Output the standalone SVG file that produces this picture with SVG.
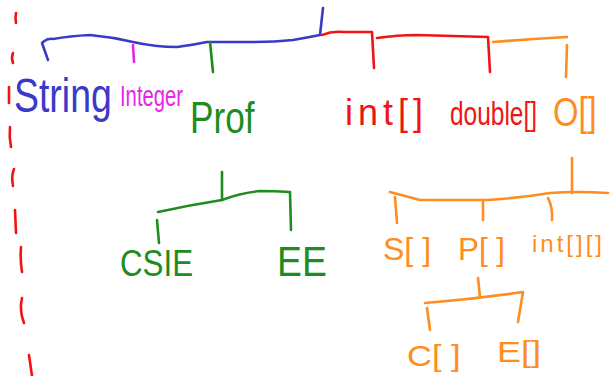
<svg xmlns="http://www.w3.org/2000/svg" width="610" height="376" viewBox="0 0 610 376">
<style>
.l{fill:none;stroke-width:2.6;stroke-linecap:round;stroke-linejoin:round}
.t{font-family:"Liberation Sans",Arial,sans-serif}
.b{stroke:#3a3ac8}.bf{fill:#3a3ac8}
.m{stroke:#e626e6}.mf{fill:#e626e6}
.g{stroke:#1e8c1e}.gf{fill:#1e8c1e}
.r{stroke:#f01414}.rf{fill:#f01414}
.o{stroke:#ff8c1e}.of{fill:#ff8c1e}
</style>
<rect width="610" height="376" fill="#ffffff"/>
<g id="divider" class="l r">
<path d="M16 13 Q15 18 16 23"/>
<path d="M13 53 Q11 58 13 63"/>
<path d="M9 87 L9 103"/>
<path d="M10 127 Q9 137 11 147"/>
<path d="M14 169 Q11 176 13 186"/>
<path d="M15 210 L16 233"/>
<path d="M21 247 Q20 260 22 272"/>
<path d="M22 298 Q19 310 24 323"/>
<path d="M29 355 L32 376"/>
</g>
<g id="connectors">
<path class="l b" d="M43 42 Q48 38 53 39 Q70 36 90 35 Q112 37 133 42 Q155 47 177 47 Q193 45 207 42 Q230 42 253 42 Q275 42 293 40 Q305 38 320 35 L323 8"/>
<path class="l b" d="M42 43 L48 60"/>
<path class="l m" d="M133 45 L134 62"/>
<path class="l g" d="M210 42 L213 72"/>
<path class="l r" d="M322 35 Q332 31 343 32 Q358 32 372 32 L374 68"/>
<path class="l r" d="M377 38 Q398 35 417 35 Q452 36 488 37 L490 72"/>
<path class="l o" d="M493 42 Q530 39 567 37"/>
<path class="l o" d="M567 45 L566 77"/>
<path class="l g" d="M222 172 L222 200"/>
<path class="l g" d="M158 212 Q190 205 222 200 Q240 193 260 191 Q275 191 290 192 L291 230"/>
<path class="l g" d="M157 220 L159 243"/>
<path class="l o" d="M572 158 L572 193"/>
<path class="l o" d="M390 192 Q405 196 420 200 Q453 200 487 200 Q520 198 550 193 Q575 191 608 193"/>
<path class="l o" d="M395 197 L397 223"/>
<path class="l o" d="M483 202 L483 220"/>
<path class="l o" d="M548 198 Q553 208 552 220"/>
<path class="l o" d="M478 278 L480 297"/>
<path class="l o" d="M425 303 Q475 299 523 292 L518 322"/>
<path class="l o" d="M427 308 L430 330"/>
</g>
<g id="node-String"><text class="t bf" transform="translate(14 112) scale(0.78 1)" font-size="48">String</text></g>
<g id="node-Integer"><text class="t mf" transform="translate(120 106) scale(0.675 1)" font-size="30">Integer</text></g>
<g id="node-Prof"><text class="t gf" transform="translate(190 133) scale(0.8 1)" font-size="44">Prof</text></g>
<g id="node-int-arr"><text class="t rf" transform="translate(345 125)" font-size="36" letter-spacing="5">int[]</text></g>
<g id="node-double-arr"><text class="t rf" transform="translate(450 125) scale(0.72 1)" font-size="34">double[]</text></g>
<g id="node-O-arr"><text class="t of" transform="translate(553 126) scale(0.82 1)" font-size="40">O[]</text></g>
<g id="node-CSIE"><text class="t gf" transform="translate(120 276) scale(0.87 1)" font-size="36">CSIE</text></g>
<g id="node-EE"><text class="t gf" transform="translate(277 276) scale(0.89 1)" font-size="42">EE</text></g>
<g id="node-S-arr"><text class="t of" transform="translate(383 260)" font-size="32">S[ ]</text></g>
<g id="node-P-arr"><text class="t of" transform="translate(458 260) scale(0.98 1)" font-size="32">P[ ]</text></g>
<g id="node-int2d-arr"><text class="t of" transform="translate(532 252)" font-size="24" letter-spacing="3">int[][]</text></g>
<g id="node-C-arr"><text class="t of" transform="translate(407 366) scale(1.15 1)" font-size="30">C[ ]</text></g>
<g id="node-E-arr"><text class="t of" transform="translate(497 362) scale(1.2 1)" font-size="30">E[]</text></g>
</svg>
